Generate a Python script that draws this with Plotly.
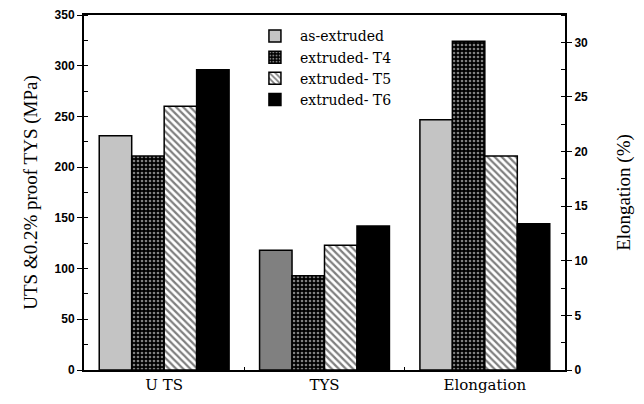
import plotly.graph_objects as go

categories = ["U TS", "TYS", "Elongation"]
series_names = ["as-extruded", "extruded- T4", "extruded- T5", "extruded- T6"]
uts = [231, 211, 260, 296]
tys = [118, 93, 123, 142]
elongation = [22.9, 30.1, 19.6, 13.4]
left_ticks = [0, 50, 100, 150, 200, 250, 300, 350]
right_ticks = [0, 5, 10, 15, 20, 25, 30]

fills = [
    dict(color=["#c4c4c4", "#808080"], pattern=None),
    dict(color="black", pattern=dict(shape=".", fgcolor="white", bgcolor="black", size=4, solidity=0.35)),
    dict(color="white", pattern=dict(shape="\\", fgcolor="black", bgcolor="white", size=5, solidity=0.45)),
    dict(color="black", pattern=None),
]
elong_fill = ["#c4c4c4", None, None, None]

fig = go.Figure()
for i, name in enumerate(series_names):
    f = fills[i]
    m = dict(color=f["color"], line=dict(color="black", width=1.5))
    if f["pattern"]:
        m["pattern"] = f["pattern"]
    fig.add_trace(go.Bar(x=categories[:2], y=[uts[i], tys[i]], name=name,
                         marker=m, offsetgroup=str(i), legendgroup=str(i),
                         yaxis="y"))
    m2 = dict(m)
    if elong_fill[i]:
        m2["color"] = elong_fill[i]
    fig.add_trace(go.Bar(x=categories[2:], y=[elongation[i]], name=name,
                         marker=m2, offsetgroup=str(i), legendgroup=str(i),
                         showlegend=False, yaxis="y2"))

tickfont = dict(family="Liberation Sans", size=12, color="black")
fig.update_layout(
    width=636, height=396,
    margin=dict(l=76, r=79, t=7, b=34, autoexpand=False),
    plot_bgcolor="white", paper_bgcolor="white",
    barmode="group", bargap=0.19, bargroupgap=0,
    showlegend=True,
    legend=dict(x=0.345, y=0.985, xanchor="left", yanchor="top",
                bgcolor="rgba(0,0,0,0)",
                font=dict(family="DejaVu Serif", size=14, color="black"),
                itemwidth=40, tracegroupgap=0),
    xaxis=dict(categoryorder="array", categoryarray=categories, automargin=False,
               tickfont=dict(family="DejaVu Serif", size=15, color="black"),
               showline=True, linecolor="black", linewidth=2, mirror=True,
               ticks="inside", ticklen=3, tickson="boundaries", tickcolor="black"),
    yaxis=dict(range=[0, 350], tickvals=left_ticks,
               ticktext=["<b>%d</b>" % v for v in left_ticks],
               tickfont=tickfont, automargin=False,
               showline=True, linecolor="black", linewidth=2,
               ticks="outside", ticklen=5, tickcolor="black", showgrid=False, zeroline=False,
               minor=dict(dtick=25, ticks="inside", ticklen=4, tickcolor="black"),
               title=dict(text="UTS &0.2% proof TYS (MPa)",
                          font=dict(family="Liberation Serif", size=19, color="black"), standoff=12)),
    yaxis2=dict(range=[0, 32.5], tickvals=right_ticks,
                ticktext=["<b>%d</b>" % v for v in right_ticks],
                overlaying="y", side="right", tickfont=tickfont, automargin=False,
                showline=True, linecolor="black", linewidth=2,
                ticks="outside", ticklen=5, tickcolor="black", showgrid=False, zeroline=False,
                minor=dict(dtick=2.5, ticks="inside", ticklen=4, tickcolor="black"),
                title=dict(text="Elongation (%)",
                           font=dict(family="Liberation Serif", size=19, color="black"), standoff=30)),
)

fig.write_html("out.html")
